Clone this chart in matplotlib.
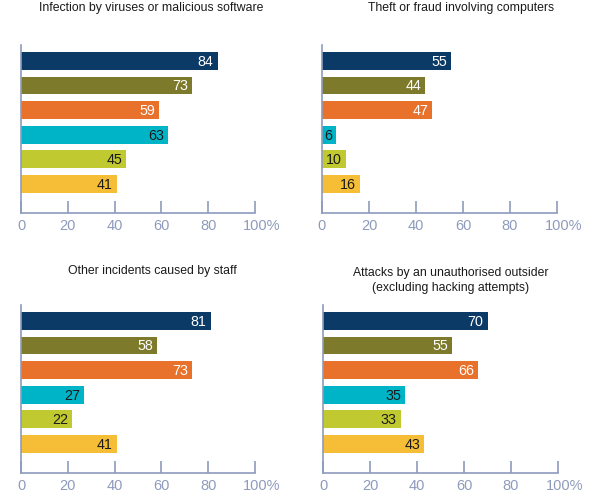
import matplotlib
matplotlib.use("Agg")
import matplotlib.pyplot as plt
from matplotlib.transforms import ScaledTranslation

titles = [
    "Infection by viruses or malicious software",
    "Theft or fraud involving computers",
    "Other incidents caused by staff",
    "Attacks by an unauthorised outsider\n(excluding hacking attempts)",
]
values_infection = [84, 73, 59, 63, 45, 41]
values_theft = [55, 44, 47, 6, 10, 16]
values_staff = [81, 58, 73, 27, 22, 41]
values_outsider = [70, 55, 66, 35, 33, 43]
tick_values = [0, 20, 40, 60, 80, 100]
tick_labels = ["0", "20", "40", "60", "80", "100%"]

bar_colors = ["#0c3a66", "#7e7a2b", "#e8712c", "#00b4c8", "#c0c930", "#f6bd37"]
label_colors = ["white", "white", "white", "#1a1a1a", "#1a1a1a", "#1a1a1a"]
axis_color = "#8e9bbd"

W, H = 600, 496
DPI = 100
fig = plt.figure(figsize=(6, 4.96), dpi=DPI)

# pixel boxes: (left, right, top, bottom)
boxes = [
    (21, 255, 45, 213),
    (322, 557, 45, 213),
    (21, 255, 305, 473),
    (323, 558, 305, 473),
]
title_pos = [(151, 2), (461, 2), (152, 265), (451, 267)]
datasets = [values_infection, values_theft, values_staff, values_outsider]

for (l, r, t, b), title, vals, (tx, ty) in zip(boxes, titles, datasets, title_pos):
    ax = fig.add_axes([l / W, 1 - b / H, (r - l) / W, (b - t) / H])
    ypos = list(range(len(vals)))
    ax.barh(ypos, vals, height=0.72, color=bar_colors, zorder=2)
    ax.set_xlim(0, 100)
    ax.set_ylim(6.18, -0.64)
    for yp, v, lc in zip(ypos, vals, label_colors):
        ax.text(v - 1.7, yp + 0.04, str(v), ha="right", va="center",
                color=lc, fontsize=10.3, family="Liberation Sans")
    for s in ["top", "right"]:
        ax.spines[s].set_visible(False)
    for s in ["left", "bottom"]:
        ax.spines[s].set_color(axis_color)
        ax.spines[s].set_linewidth(1.2)
    ax.set_yticks([])
    ax.set_xticks(tick_values)
    ax.set_xticklabels(tick_labels)
    ax.tick_params(axis="x", direction="in", length=9, width=1.2,
                   color=axis_color, labelcolor=axis_color, labelsize=10.5, pad=4)
    for lab in ax.get_xticklabels():
        lab.set_family("Liberation Sans")
    # keep the number of "100%" centred on its tick, the % sign hanging right
    last = ax.get_xticklabels()[-1]
    last.set_transform(last.get_transform() +
                       ScaledTranslation(6.5 / DPI, 0, fig.dpi_scale_trans))
    fig.text(tx / W, 1 - ty / H, title, ha="center", va="top",
             fontsize=8.8, family="Liberation Sans", color="#1a1a1a",
             linespacing=1.3)

fig.savefig("out.png", dpi=DPI, facecolor="white")
